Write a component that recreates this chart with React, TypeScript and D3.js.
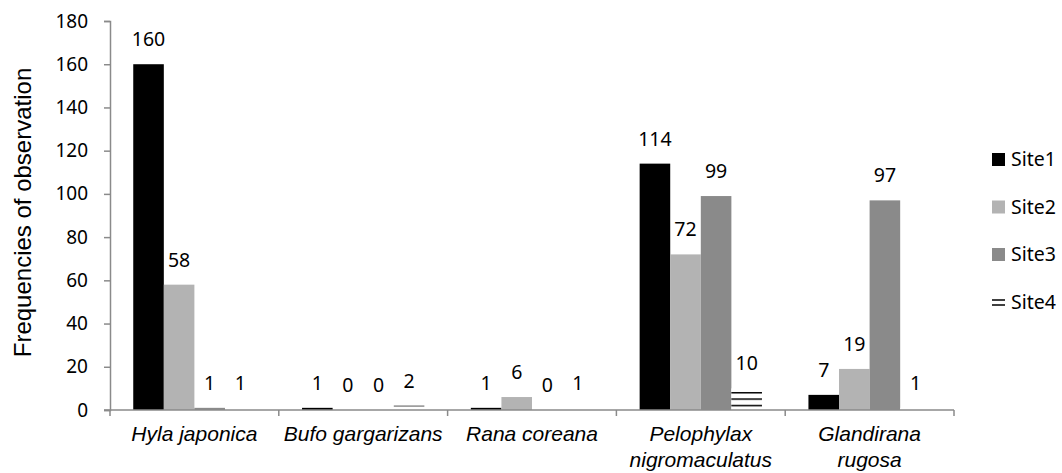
import React, { useEffect, useRef } from 'react';
import * as d3 from 'd3';

const species = ['Hyla japonica', 'Bufo gargarizans', 'Rana coreana', 'Pelophylax nigromaculatus', 'Glandirana rugosa'];
const speciesLines = [['Hyla japonica'], ['Bufo gargarizans'], ['Rana coreana'], ['Pelophylax', 'nigromaculatus'], ['Glandirana', 'rugosa']];
const sites = ['Site1', 'Site2', 'Site3', 'Site4'];
const site1 = [160, 1, 1, 114, 7];
const site2 = [58, 0, 6, 72, 19];
const site3 = [1, 0, 0, 99, 97];
const site4 = [1, 2, 1, 10, 1];
const yTicks = [0, 20, 40, 60, 80, 100, 120, 140, 160, 180];

const App: React.FC = () => {
  const svgRef = useRef<SVGSVGElement>(null);

  useEffect(() => {
    const svg = d3.select(svgRef.current);
    svg.selectAll('*').remove();

    const W = 1062;
    const H = 473;
    const margin = { top: 21, right: 108, bottom: 63, left: 110 };
    const width = W - margin.left - margin.right;
    const height = H - margin.top - margin.bottom;
    const numFont = '"Noto Sans", "Open Sans", sans-serif';
    const textFont = '"Liberation Sans", Arial, sans-serif';
    const axisColor = '#8a8a8a';

    svg.attr('width', W).attr('height', H);

    const g = svg.append('g').attr('transform', `translate(${margin.left},${margin.top})`);

    // hatch pattern for Site4 (user space of g)
    const defs = svg.append('defs');
    const pat = defs.append('pattern')
      .attr('id', 'hatch')
      .attr('patternUnits', 'userSpaceOnUse')
      .attr('width', 10)
      .attr('height', 6.4)
      .attr('y', height - 5.25);
    pat.append('rect').attr('width', 10).attr('height', 6.4).attr('fill', '#fff');
    pat.append('line')
      .attr('x1', 0).attr('x2', 10).attr('y1', 0.75).attr('y2', 0.75)
      .attr('stroke', '#000').attr('stroke-width', 1.5);

    const data = species.map((s, i) => ({
      name: s,
      values: [site1[i], site2[i], site3[i], site4[i]],
    }));

    const x0 = d3.scaleBand().domain(species).range([0, width]).paddingInner(0).paddingOuter(0);
    const x1 = d3.scaleBand().domain(sites).range([0, x0.bandwidth()]).paddingInner(0).paddingOuter(0.76);
    const y = d3.scaleLinear().domain([0, 180]).range([height, 0]);

    const color = d3.scaleOrdinal<string, string>()
      .domain(sites)
      .range(['#000000', '#b3b3b3', '#8a8a8a', 'url(#hatch)']);

    const groups = g.selectAll('.grp')
      .data(data)
      .enter()
      .append('g')
      .attr('class', 'grp')
      .attr('transform', d => `translate(${x0(d.name)},0)`);

    groups.selectAll('rect')
      .data(d => d.values.map((v, j) => ({ site: sites[j], v })))
      .enter()
      .append('rect')
      .attr('x', d => x1(d.site) || 0)
      .attr('y', d => y(d.v))
      .attr('width', x1.bandwidth())
      .attr('height', d => height - y(d.v))
      .attr('fill', d => color(d.site));

    groups.selectAll('text.val')
      .data(d => d.values.map((v, j) => ({ site: sites[j], v })))
      .enter()
      .append('text')
      .attr('class', 'val')
      .attr('x', d => (x1(d.site) || 0) + x1.bandwidth() / 2)
      .attr('y', d => y(d.v) - 18)
      .attr('text-anchor', 'middle')
      .style('font-family', numFont)
      .style('font-size', '19.5px')
      .attr('fill', '#000')
      .text(d => d.v);

    // Y axis
    const yAxis = g.append('g')
      .call(d3.axisLeft(y).tickValues(yTicks).tickSize(6).tickSizeOuter(6).tickPadding(16));
    yAxis.selectAll('path, line').attr('stroke', axisColor).attr('stroke-width', 1.5);
    yAxis.selectAll('text')
      .style('font-family', numFont)
      .style('font-size', '19px')
      .attr('fill', '#000');

    // X axis
    const xAxis = g.append('g').attr('transform', `translate(0,${height})`);
    xAxis.append('line')
      .attr('x1', -6).attr('x2', width).attr('y1', 0).attr('y2', 0)
      .attr('stroke', axisColor).attr('stroke-width', 1.5);
    const bounds = species.map(s => x0(s) || 0).concat([width]);
    xAxis.selectAll('line.tick')
      .data(bounds)
      .enter()
      .append('line')
      .attr('class', 'tick')
      .attr('x1', d => d).attr('x2', d => d)
      .attr('y1', 0).attr('y2', 6)
      .attr('stroke', axisColor).attr('stroke-width', 1.5);

    const labels = xAxis.selectAll('text.cat')
      .data(species.map((s, i) => ({ s, lines: speciesLines[i] })))
      .enter()
      .append('text')
      .attr('class', 'cat')
      .attr('x', d => (x0(d.s) || 0) + x0.bandwidth() / 2)
      .attr('y', 31)
      .attr('text-anchor', 'middle')
      .style('font-family', textFont)
      .style('font-size', '21px')
      .style('font-style', 'italic')
      .attr('fill', '#000');
    labels.selectAll('tspan')
      .data(d => d.lines.map(l => ({ l, x: (x0(d.s) || 0) + x0.bandwidth() / 2 })))
      .enter()
      .append('tspan')
      .attr('x', d => d.x)
      .attr('dy', (d, i) => (i === 0 ? 0 : 26))
      .text(d => d.l);

    // Y title
    g.append('text')
      .attr('transform', 'rotate(-90)')
      .attr('x', -(212.5 - margin.top))
      .attr('y', 31 - margin.left)
      .attr('text-anchor', 'middle')
      .style('font-family', textFont)
      .style('font-size', '24px')
      .attr('fill', '#000')
      .text('Frequencies of observation');

    // Legend
    const legend = svg.append('g').attr('transform', 'translate(992,153)');
    sites.forEach((s, i) => {
      const item = legend.append('g').attr('transform', `translate(0,${i * 47.5})`);
      if (s === 'Site4') {
        [4.5, 9.5].forEach(ly => {
          item.append('line')
            .attr('x1', 0).attr('x2', 13).attr('y1', ly).attr('y2', ly)
            .attr('stroke', '#000').attr('stroke-width', 1.5);
        });
      } else {
        item.append('rect')
          .attr('width', 13)
          .attr('height', 13)
          .attr('fill', color(s));
      }
      item.append('text')
        .attr('x', 19)
        .attr('y', 13)
        .style('font-family', numFont)
        .style('font-size', '19.5px')
        .attr('fill', '#000')
        .text(s);
    });
  }, []);

  return (
    <svg ref={svgRef} style={{ position: 'absolute', left: 0, top: 0, background: '#fff' }}></svg>
  );
};

export default App;
